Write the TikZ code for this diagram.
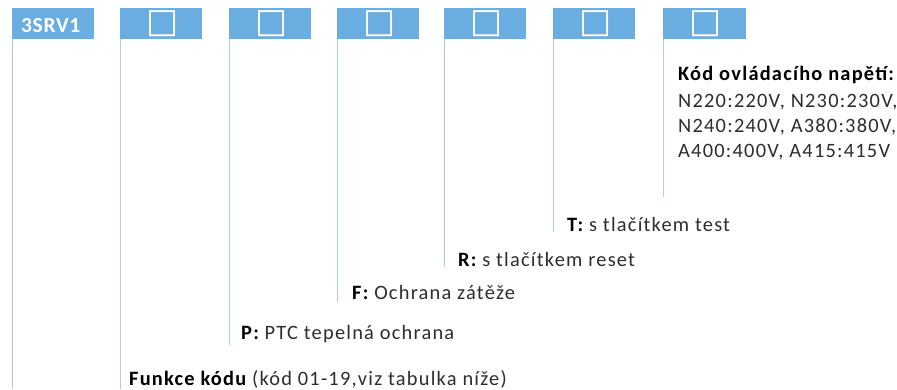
\documentclass[tikz,border=0pt]{standalone}
\usepackage{fontspec}
\setmainfont{Carlito}[LetterSpace=6]
\newfontfamily\boxfont{Carlito}[LetterSpace=3]
\newfontfamily\symfont{DejaVu Sans}
\definecolor{boxblue}{RGB}{106,173,224}
\definecolor{lineblue}{RGB}{170,205,236}
\definecolor{txt}{RGB}{45,45,45}
\begin{document}
\begin{tikzpicture}[x=1pt,y=-1pt,
  codebox/.style={fill=boxblue,draw=none,minimum width=82pt,minimum height=31pt,inner sep=0pt,anchor=north west},
  vline/.style={draw=lineblue,line width=1.2pt},
  lbl/.style={anchor=base west,inner sep=0pt,text=txt,font=\fontsize{20.4}{25}\selectfont},
  sq/.style={text=white,font=\symfont\fontsize{34}{34}\selectfont,inner sep=0pt}]
\useasboundingbox (0,0) rectangle (897,389);
% boxes
\node[codebox] (b1) at (12,8) {};
\node[codebox] (b2) at (120,8) {};
\node[codebox] (b3) at (229,8) {};
\node[codebox] (b4) at (337,8) {};
\node[codebox] (b5) at (444,8) {};
\node[codebox] (b6) at (553,8) {};
\node[codebox,minimum width=83pt] (b7) at (663,8) {};
\node[anchor=base west,inner sep=0pt,text=white,font=\boxfont\bfseries\fontsize{21.5}{21.5}\selectfont] (t1) at (21,32) {3SRV1};
\foreach \i in {2,...,7}{\node[sq] (s\i) at ([xshift=1pt]b\i.center) {□};}
% line end points
\coordinate (e1) at (12,389);
\coordinate (e2) at (120,389);
\coordinate (e3) at (229,345);
\coordinate (e4) at (337,302);
\coordinate (e5) at (444,267);
\coordinate (e6) at (553,232);
\coordinate (e7) at (663,197);
\foreach \i in {1,...,7}{\draw[vline] ([xshift=0.6pt]b\i.south west) -- ([xshift=0.6pt]e\i);}
% labels
\node[lbl] (l2) at (129,385) {\textbf{\color{black}Funkce kódu} (kód 01-19,viz tabulka níže)};
\node[lbl] (l3) at (241,339) {\textbf{\color{black}P:} PTC tepelná ochrana};
\node[lbl] (l4) at (352,299) {\textbf{\color{black}F:} Ochrana zátěže};
\node[lbl] (l5) at (458,266) {\textbf{\color{black}R:} s tlačítkem reset};
\node[lbl] (l6) at (567,231) {\textbf{\color{black}T:} s tlačítkem test};
\node[lbl] (l7a) at (678,80) {\textbf{\color{black}Kód ovládacího napětí:}};
\node[lbl] (l7b) at (678,107) {N220:220V, N230:230V,};
\node[lbl] (l7c) at (678,132) {N240:240V, A380:380V,};
\node[lbl] (l7d) at (678,157) {A400:400V, A415:415V};
\end{tikzpicture}
\end{document}
